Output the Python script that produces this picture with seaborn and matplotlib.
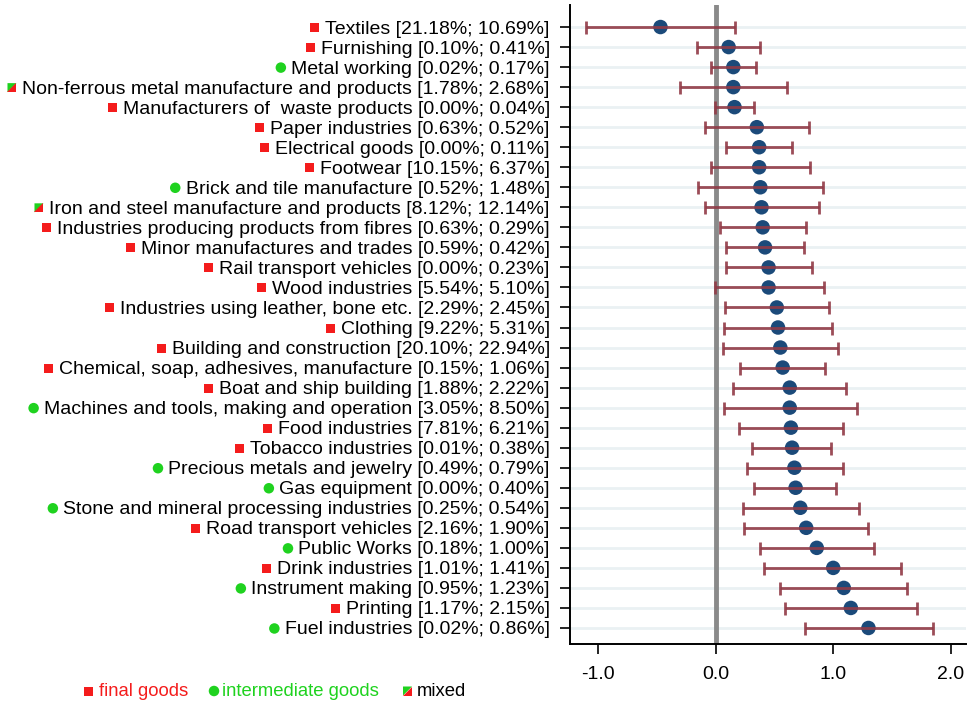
import numpy as np
import pandas as pd
import matplotlib
matplotlib.use("Agg")
import matplotlib.pyplot as plt
from matplotlib.patches import Rectangle, Polygon, Ellipse
import seaborn as sns

sectors = [
    "Textiles", "Furnishing", "Metal working", "Non-ferrous metal manufacture and products",
    "Manufacturers of  waste products", "Paper industries", "Electrical goods", "Footwear",
    "Brick and tile manufacture", "Iron and steel manufacture and products",
    "Industries producing products from fibres", "Minor manufactures and trades",
    "Rail transport vehicles", "Wood industries", "Industries using leather, bone etc.",
    "Clothing", "Building and construction", "Chemical, soap, adhesives, manufacture",
    "Boat and ship building", "Machines and tools, making and operation", "Food industries",
    "Tobacco industries", "Precious metals and jewelry", "Gas equipment",
    "Stone and mineral processing industries", "Road transport vehicles", "Public Works",
    "Drink industries", "Instrument making", "Printing", "Fuel industries",
]
shares = [
    "21.18%; 10.69%", "0.10%; 0.41%", "0.02%; 0.17%", "1.78%; 2.68%", "0.00%; 0.04%",
    "0.63%; 0.52%", "0.00%; 0.11%", "10.15%; 6.37%", "0.52%; 1.48%", "8.12%; 12.14%",
    "0.63%; 0.29%", "0.59%; 0.42%", "0.00%; 0.23%", "5.54%; 5.10%", "2.29%; 2.45%",
    "9.22%; 5.31%", "20.10%; 22.94%", "0.15%; 1.06%", "1.88%; 2.22%", "3.05%; 8.50%",
    "7.81%; 6.21%", "0.01%; 0.38%", "0.49%; 0.79%", "0.00%; 0.40%", "0.25%; 0.54%",
    "2.16%; 1.90%", "0.18%; 1.00%", "1.01%; 1.41%", "0.95%; 1.23%", "1.17%; 2.15%",
    "0.02%; 0.86%",
]
goods_type = [
    "F", "F", "I", "M", "F", "F", "F", "F", "I", "M", "F", "F", "F", "F", "F", "F",
    "F", "F", "F", "I", "F", "F", "I", "I", "I", "F", "I", "F", "I", "F", "I",
]
coef = [-0.47, 0.11, 0.15, 0.15, 0.16, 0.35, 0.37, 0.37, 0.38, 0.39, 0.40, 0.42, 0.45,
        0.45, 0.52, 0.53, 0.55, 0.57, 0.63, 0.63, 0.64, 0.65, 0.67, 0.68, 0.72, 0.77,
        0.86, 1.00, 1.09, 1.15, 1.30]
ci_low = [-1.10, -0.16, -0.04, -0.30, -0.01, -0.09, 0.09, -0.04, -0.15, -0.09, 0.04,
          0.09, 0.09, -0.01, 0.08, 0.07, 0.06, 0.21, 0.15, 0.07, 0.20, 0.31, 0.27, 0.33,
          0.23, 0.24, 0.38, 0.41, 0.55, 0.59, 0.76]
ci_high = [0.16, 0.38, 0.34, 0.61, 0.33, 0.79, 0.65, 0.80, 0.91, 0.88, 0.77, 0.75, 0.82,
           0.92, 0.96, 0.99, 1.04, 0.93, 1.11, 1.20, 1.08, 0.98, 1.08, 1.02, 1.22, 1.30,
           1.35, 1.58, 1.63, 1.71, 1.85]
x_ticks = [-1.0, 0.0, 1.0, 2.0]
x_ticklabels = ["-1.0", "0.0", "1.0", "2.0"]
legend_labels = ["final goods", "intermediate goods", "mixed"]

RED = "#f41c1c"
GREEN = "#1fd21f"
DOT = "#1b4a7a"
BAR = "#913a46"

sns.set_style("white")
plt.rcParams["font.family"] = ["Liberation Sans", "DejaVu Sans"]

df = pd.DataFrame({
    "label": [f"{s} [{sh}]" for s, sh in zip(sectors, shares)],
    "coef": coef, "lo": ci_low, "hi": ci_high, "type": goods_type,
})
df["pos"] = np.arange(len(df))

W, H = 968, 702
fig = plt.figure(figsize=(W / 100, H / 100), dpi=100)
ax = fig.add_axes([570 / W, 1 - 644 / H, (966 - 570) / W, (644 - 5) / H])

ax.axvline(0, color="#8a8a8a", lw=3.5, zorder=1.5)
sns.scatterplot(data=df, x="coef", y="pos", ax=ax, s=(14.5 * 0.72) ** 2,
                color=DOT, edgecolor="none", zorder=3, legend=False)
ax.errorbar(df["coef"], df["pos"], xerr=[df["coef"] - df["lo"], df["hi"] - df["coef"]],
            fmt="none", ecolor=BAR, elinewidth=2, capsize=6.5 * 0.72, capthick=2,
            alpha=0.9, zorder=4)

ax.set_ylim(30.8, -1.1)
ax.set_xlim(-1.24, 2.13)
ax.set_yticks(df["pos"])
ax.set_yticklabels(df["label"], fontsize=14.0)
ax.set_xticks(x_ticks)
ax.set_xticklabels(x_ticklabels, fontsize=14)
ax.set_xlabel("")
ax.set_ylabel("")
ax.yaxis.grid(True, color="#eaf1f3", lw=2)
ax.xaxis.grid(False)
ax.set_axisbelow(True)
for s in ["top", "right"]:
    ax.spines[s].set_visible(False)
for s in ["left", "bottom"]:
    ax.spines[s].set_color("black")
    ax.spines[s].set_linewidth(1.4)
ax.tick_params(axis="y", length=7.5, width=1.2, pad=7, colors="black", left=True)
ax.tick_params(axis="x", length=7.5, width=1.2, pad=8, colors="black", bottom=True)


def px(x, y):
    """pixel (x from left, y from top) -> figure fraction"""
    return x / W, 1 - y / H


def add_marker(kind, cx, cy, size=9):
    h = size / 2
    if kind == "F":
        x0, y0 = px(cx - h, cy + h)
        fig.add_artist(Rectangle((x0, y0), size / W, size / H, transform=fig.transFigure,
                                 facecolor=RED, edgecolor="none"))
    elif kind == "I":
        c = px(cx, cy)
        fig.add_artist(Ellipse(c, (size + 1.5) / W, (size + 1.5) / H, transform=fig.transFigure,
                               facecolor=GREEN, edgecolor="none"))
    else:
        tl = px(cx - h, cy - h)
        tr = px(cx + h, cy - h)
        bl = px(cx - h, cy + h)
        br = px(cx + h, cy + h)
        fig.add_artist(Polygon([tl, tr, bl], closed=True, transform=fig.transFigure,
                               facecolor=GREEN, edgecolor="none"))
        fig.add_artist(Polygon([tr, br, bl], closed=True, transform=fig.transFigure,
                               facecolor=RED, edgecolor="none"))


fig.canvas.draw()
renderer = fig.canvas.get_renderer()
for lab, kind, pos in zip(ax.get_yticklabels(), df["type"], df["pos"]):
    bb = lab.get_window_extent(renderer)
    ydisp = ax.transData.transform((0, pos))[1]
    add_marker(kind, bb.x0 - 10.5, H - ydisp + 0.5)

# legend
ly = 691
add_marker("F", 88, ly)
fig.text(*px(99, ly), legend_labels[0], color=RED, fontsize=13.3, va="center", ha="left")
add_marker("I", 214, ly)
fig.text(*px(222, ly), legend_labels[1], color=GREEN, fontsize=13.3, va="center", ha="left")
add_marker("M", 407.5, ly)
fig.text(*px(417, ly), legend_labels[2], color="black", fontsize=13.3, va="center", ha="left")

fig.savefig("out.png", dpi=100)
